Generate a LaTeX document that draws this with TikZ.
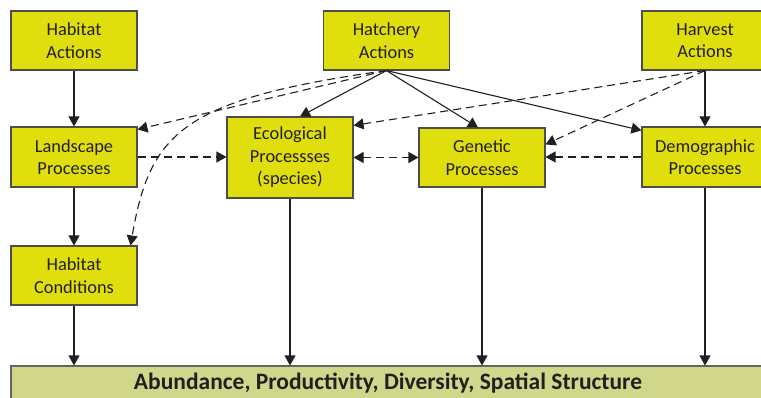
\documentclass[tikz,border=0pt]{standalone}
\usepackage{fontspec}
\setmainfont{Carlito}
\usetikzlibrary{arrows.meta}
\definecolor{boxfill}{RGB}{225,222,14}
\definecolor{barfill}{RGB}{208,214,138}
\definecolor{ink}{RGB}{35,31,32}
\begin{document}
\begin{tikzpicture}[x=1pt,y=-1pt,
  box/.style={draw=ink!80, line width=1.1pt, fill=boxfill, minimum width=126pt,
    align=center, font=\fontsize{18.4}{22.5}\selectfont, text=ink, inner sep=0pt},
  tip/.tip={Triangle[length=10pt,width=11pt]},
  conn/.style={draw=ink, line width=1.1pt, -tip},
  dconn/.style={conn, dash pattern=on 8pt off 5pt}]
\useasboundingbox (0,0) rectangle (761,398);
% nodes
\node[box, minimum height=59pt] (HA) at (74,40.5) {Habitat\\Actions};
\node[box, minimum height=59pt] (HatA) at (386.5,40.5) {Hatchery\\Actions};
\node[box, minimum height=59pt] (HvA) at (705,40.5) {Harvest\\Actions};
\node[box, minimum height=60pt] (LP) at (74,157) {Landscape\\Processes};
\node[box, minimum height=81pt] (EP) at (290,157.5) {Ecological\\Processses\\(species)};
\node[box, minimum height=59pt] (GP) at (482,157.5) {Genetic\\Processes};
\node[box, minimum height=60pt] (DP) at (705,157) {Demographic\\Processes};
\node[box, minimum height=59pt] (HC) at (74,275.5) {Habitat\\Conditions};
\node[draw=ink!70, line width=1.1pt, fill=barfill, minimum width=754pt, minimum height=34pt,
  inner sep=0pt, text=ink, font=\fontsize{23.5}{26}\selectfont\bfseries] (bar) at (388,383)
  {Abundance, Productivity, Diversity, Spatial Structure};
% solid connectors
\draw[conn] (HA) -- (LP);
\draw[conn] (LP) -- (HC);
\draw[conn] (HvA) -- (DP);
\draw[conn] (HC.south) -- (HC.south |- bar.north);
\draw[conn] (EP.south) -- (EP.south |- bar.north);
\draw[conn] (GP.south) -- (GP.south |- bar.north);
\draw[conn] (DP.south) -- (DP.south |- bar.north);
\draw[conn] (HatA.south) -- ([xshift=10pt]EP.north);
\draw[conn] (HatA.south) -- ([xshift=-4pt]GP.north);
\draw[conn] (HatA.south) -- ([yshift=-4pt]DP.north west);
% dashed connectors
\draw[dconn] (HatA.south) -- ([yshift=-3pt]LP.north east);
\draw[dconn] (HatA.south) .. controls (183,99) and (150,132) .. ([xshift=-7pt]HC.north east);
\draw[dconn] (HvA.south) -- ([yshift=-9pt]EP.north east);
\draw[dconn] (HvA.south) -- ([yshift=-17pt]GP.north east);
\draw[dconn] (LP.east) -- (LP.east -| EP.west);
\draw[dconn, tip-tip] (EP.east) -- (GP.west);
\draw[dconn] (DP.west) -- (DP.west -| GP.east);
\end{tikzpicture}
\end{document}
